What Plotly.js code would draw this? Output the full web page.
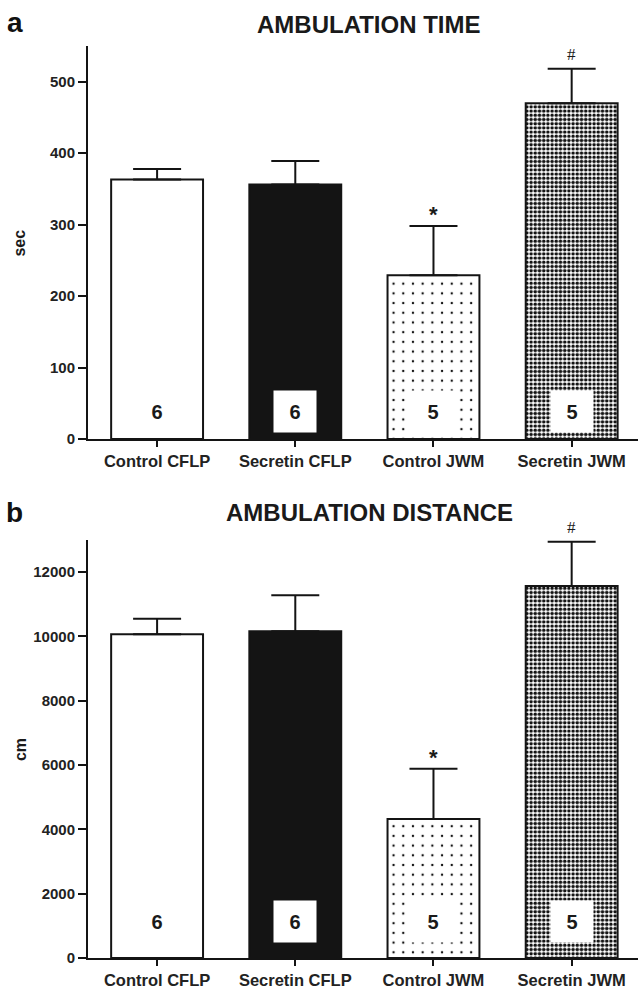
<!DOCTYPE html>
<html><head><meta charset="utf-8">
<script src="https://cdn.plot.ly/plotly-3.0.1.min.js"></script>
<style>html,body{margin:0;padding:0;background:#fff}#chart{width:638px;height:990px}</style>
</head><body><div id="chart"></div>
<script>
// ---- data ----
const categories = ['Control CFLP', 'Secretin CFLP', 'Control JWM', 'Secretin JWM'];
const timeMean = [363, 356, 229, 470];
const timeSem = [15, 33, 69, 48];
const distMean = [10070, 10160, 4320, 11570];
const distSem = [480, 1120, 1565, 1380];
const nAnimals = [6, 6, 5, 5];
const sigMarks = ['', '', '*', '#'];
const timeTicks = [0, 100, 200, 300, 400, 500];
const distTicks = [0, 2000, 4000, 6000, 8000, 10000, 12000];
const panelTitles = ['AMBULATION TIME', 'AMBULATION DISTANCE'];
const yTitles = ['sec', 'cm'];

// ---- styles ----
const FONT = 'Liberation Sans, Arial, Helvetica, sans-serif';
const INK = '#141414';
const barStyles = [
  {color: '#ffffff'},
  {color: '#141414'},
  {color: '#ffffff', pattern: {shape: '.', fgcolor: '#141414', bgcolor: '#ffffff', size: 9.7, solidity: 0.05}},
  {color: '#ffffff', pattern: {shape: '.', fgcolor: '#141414', bgcolor: '#ffffff', size: 4.2, solidity: 0.55}}
];

const data = [];
[[timeMean, timeSem, 'x', 'y'], [distMean, distSem, 'x2', 'y2']].forEach(([vals, sem, xa, ya]) => {
  categories.forEach((c, i) => {
    const m = Object.assign({line: {color: INK, width: 2}}, barStyles[i]);
    data.push({
      type: 'bar', x: [c], y: [vals[i]], xaxis: xa, yaxis: ya,
      width: 0.665, marker: m,
      error_y: {type: 'data', symmetric: false, array: [sem[i]], arrayminus: [0],
                color: INK, thickness: 2, width: 24},
      hoverinfo: 'skip', showlegend: false
    });
  });
});

function xAxis(anchor) {
  return {
    anchor: anchor, domain: [0, 1], type: 'category', range: [-0.5, 3.48],
    categoryorder: 'array', categoryarray: categories,
    showline: true, linecolor: INK, linewidth: 2, showgrid: false, zeroline: false,
    ticks: 'outside', ticklen: 6, tickwidth: 2, tickcolor: INK,
    tickfont: {family: FONT, size: 16.5, color: '#222', weight: 'bold'},
    fixedrange: true
  };
}
function yAxis(anchor, domain, range, ticks) {
  return {
    anchor: anchor, domain: domain, range: range, tickvals: ticks,
    ticktext: ticks.map(String),
    showline: true, linecolor: INK, linewidth: 2, showgrid: false, zeroline: false,
    ticks: 'outside', ticklen: 8, tickwidth: 2, tickcolor: INK,
    tickfont: {family: FONT, size: 15, color: '#222', weight: 'bold'},
    fixedrange: true
  };
}

const annotations = [];
annotations.push({xref: 'paper', yref: 'paper', x: -0.133, y: 1.026, text: 'a', showarrow: false,
  xanchor: 'center', yanchor: 'middle', font: {family: FONT, size: 28, color: '#111', weight: 'bold'}});
annotations.push({xref: 'paper', yref: 'paper', x: -0.133, y: 0.488, text: 'b', showarrow: false,
  xanchor: 'center', yanchor: 'middle', font: {family: FONT, size: 28, color: '#111', weight: 'bold'}});
annotations.push({xref: 'paper', yref: 'paper', x: 0.511, y: 1.0241, text: panelTitles[0], showarrow: false,
  xanchor: 'center', yanchor: 'middle', font: {family: FONT, size: 24, color: '#1a1a1a', weight: 'bold'}});
annotations.push({xref: 'paper', yref: 'paper', x: 0.511, y: 0.488, text: panelTitles[1], showarrow: false,
  xanchor: 'center', yanchor: 'middle', font: {family: FONT, size: 24, color: '#1a1a1a', weight: 'bold'}});
annotations.push({xref: 'paper', yref: 'paper', x: -0.1236, y: 0.7834, text: yTitles[0], showarrow: false,
  textangle: -90, xanchor: 'center', yanchor: 'middle', font: {family: FONT, size: 16, color: '#1a1a1a', weight: 'bold'}});
annotations.push({xref: 'paper', yref: 'paper', x: -0.1236, y: 0.228, text: yTitles[1], showarrow: false,
  textangle: -90, xanchor: 'center', yanchor: 'middle', font: {family: FONT, size: 16, color: '#1a1a1a', weight: 'bold'}});

const panels = [
  {xr: 'x', yr: 'y', mean: timeMean, sem: timeSem, ny: 0.5987},
  {xr: 'x2', yr: 'y2', mean: distMean, sem: distSem, ny: 0.040}
];
panels.forEach(p => {
  categories.forEach((c, i) => {
    annotations.push({xref: p.xr, yref: 'paper', x: c, y: p.ny, text: String(nAnimals[i]), showarrow: false,
      xanchor: 'center', yanchor: 'middle', width: i === 2 ? 46 : 42, height: 41,
      bgcolor: '#ffffff', borderpad: 0,
      font: {family: FONT, size: 20, color: '#1a1a1a', weight: 'bold'}});
    if (sigMarks[i]) {
      const isStar = sigMarks[i] === '*';
      annotations.push({xref: p.xr, yref: p.yr, x: c, y: p.mean[i] + p.sem[i], text: sigMarks[i], showarrow: false,
        xanchor: 'center', yanchor: 'bottom', yshift: isStar ? -3 : 3,
        font: {family: isStar ? FONT : 'Liberation Serif, Times New Roman, serif', size: isStar ? 22 : 17,
               color: '#1a1a1a', weight: isStar ? 'bold' : 'normal'}});
    }
  });
});

const layout = {
  width: 638, height: 990,
  margin: {l: 88, r: 0, t: 46, b: 32},
  paper_bgcolor: '#ffffff', plot_bgcolor: '#ffffff',
  barmode: 'overlay',
  xaxis: xAxis('y'),
  yaxis: yAxis('x', [0.5691, 1], [0, 550], timeTicks),
  xaxis2: xAxis('y2'),
  yaxis2: yAxis('x2', [0, 0.4583], [0, 13000], distTicks),
  annotations: annotations,
  showlegend: false
};

Plotly.newPlot('chart', data, layout, {displayModeBar: false, staticPlot: true});
</script>
</body></html>
